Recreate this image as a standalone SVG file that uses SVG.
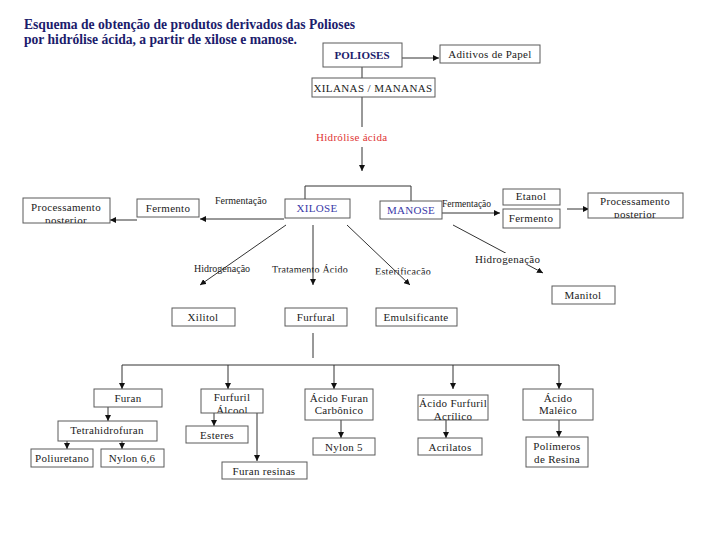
<svg xmlns="http://www.w3.org/2000/svg" width="720" height="540" viewBox="0 0 720 540">
<style>
.b{fill:#fff;stroke:#5a5a5a;stroke-width:1}
.t{font-family:"Liberation Serif",serif;font-size:11px;fill:#222;text-anchor:middle;letter-spacing:0.3px}
.s{font-family:"Liberation Serif",serif;font-size:10px;fill:#222}
.c{stroke:#333;fill:none;stroke-width:1}
.a{stroke:#333;fill:none;stroke-width:1;marker-end:url(#ah)}
.ttl{font-family:"Liberation Serif",serif;font-size:13.6px;font-weight:bold;fill:#1c1c6c}
.blue{fill:#3a3aa8}
</style>
<defs>
<marker id="ah" viewBox="0 0 10 10" refX="10" refY="5" markerWidth="6" markerHeight="6" markerUnits="userSpaceOnUse" orient="auto">
<path d="M0,0 L10,5 L0,10 z" fill="#111"/>
</marker>
<clipPath id="cpR"><rect x="588" y="193" width="95" height="25"/></clipPath>
<clipPath id="cpL"><rect x="23" y="198" width="87" height="25"/></clipPath>
<clipPath id="cpF"><rect x="201" y="389" width="62" height="24"/></clipPath>
<clipPath id="cpA"><rect x="418" y="395" width="70" height="25"/></clipPath>
<clipPath id="cpT"><rect x="260" y="250" width="100" height="22.5"/></clipPath>
<clipPath id="cpE"><rect x="370" y="250" width="80" height="24.5"/></clipPath>
</defs>
<rect width="720" height="540" fill="#fff"/>

<text class="ttl" x="24" y="29">Esquema de obtenção de produtos derivados das Polioses</text>
<text class="ttl" x="24" y="44">por hidrólise ácida, a partir de xilose e manose.</text>

<g id="connectors">
<line class="a" x1="402" y1="58" x2="439" y2="58"/>
<line class="c" x1="362" y1="67" x2="362" y2="78"/>
<line class="c" x1="362" y1="97" x2="362" y2="127"/>
<line class="a" x1="362" y1="147" x2="362" y2="171"/>
<path class="c" d="M305,199 V186 H411 V201"/>
<line class="a" x1="442" y1="213" x2="500" y2="213"/>
<line class="a" x1="567" y1="209" x2="589" y2="209"/>
<line class="a" x1="284" y1="219" x2="200" y2="219"/>
<line class="a" x1="137" y1="220" x2="110" y2="220"/>
<line class="a" x1="286" y1="225" x2="200" y2="285"/>
<line class="a" x1="313" y1="225" x2="313" y2="285"/>
<line class="a" x1="347" y1="225" x2="410" y2="285"/>
<line class="a" x1="453" y1="225" x2="543" y2="273"/>
<line class="c" x1="313" y1="333" x2="313" y2="358"/>
<line class="c" x1="122" y1="365" x2="559" y2="365"/>
<line class="a" x1="122" y1="365" x2="122" y2="389"/>
<line class="a" x1="228" y1="365" x2="228" y2="389"/>
<line class="a" x1="334" y1="365" x2="334" y2="389"/>
<line class="a" x1="453" y1="365" x2="453" y2="389"/>
<line class="a" x1="559" y1="365" x2="559" y2="389"/>
<line class="a" x1="108" y1="407" x2="108" y2="421"/>
<line class="a" x1="67" y1="441" x2="67" y2="449"/>
<line class="a" x1="122" y1="441" x2="122" y2="449"/>
<line class="a" x1="214" y1="413" x2="214" y2="426"/>
<line class="a" x1="257" y1="413" x2="257" y2="461"/>
<line class="a" x1="341" y1="420" x2="341" y2="438"/>
<line class="a" x1="446" y1="420" x2="446" y2="438"/>
<line class="a" x1="559" y1="420" x2="559" y2="437"/>
</g>

<g id="labels">
<text x="316" y="141" class="s" style="font-size:11px;fill:#e03535;letter-spacing:0.3px">Hidrólise ácida</text>
<text x="215" y="204" class="s">Fermentação</text>
<text x="442" y="207" class="s" style="font-size:9.5px">Fermentação</text>
<text x="194" y="272" class="s">Hidrogenação</text>
<g clip-path="url(#cpT)">
<text x="272" y="273" class="s" style="letter-spacing:0.2px">Tratamento Ácido</text>
</g>
<g clip-path="url(#cpE)">
<text x="375" y="275" class="s" style="letter-spacing:0.3px">Esterificação</text>
</g>
<rect x="474" y="253" width="70" height="12" fill="#fff"/>
<text x="475" y="263" class="s" style="font-size:11px;letter-spacing:0.3px">Hidrogenação</text>
</g>

<g id="polioses"><rect class="b" x="323" y="43" width="79" height="24"/><text class="t" x="362" y="59" style="font-weight:bold;fill:#1c1c6c;letter-spacing:0">POLIOSES</text></g>
<g id="aditivos"><rect class="b" x="440" y="45" width="100" height="18"/><text class="t" x="490" y="58">Aditivos de Papel</text></g>
<g id="xilanas"><rect class="b" x="312" y="78" width="123" height="19"/><text class="t" x="373" y="92" style="letter-spacing:0.4px">XILANAS / MANANAS</text></g>
<g id="xilose"><rect class="b" x="285" y="199" width="65" height="19"/><text class="t blue" x="317" y="212">XILOSE</text></g>
<g id="manose"><rect class="b" x="380" y="201" width="62" height="18"/><text class="t blue" x="411" y="214">MANOSE</text></g>
<g id="etanol"><rect class="b" x="503" y="189" width="57" height="16"/><text class="t" x="531" y="200">Etanol</text></g>
<g id="fermento-r"><rect class="b" x="503" y="209" width="57" height="19"/><text class="t" x="531" y="222">Fermento</text></g>
<g id="proc-r"><rect class="b" x="588" y="193" width="95" height="25"/><g clip-path="url(#cpR)"><text class="t" x="635" y="205">Processamento</text><text class="t" x="635" y="218">posterior</text></g></g>
<g id="fermento-l"><rect class="b" x="137" y="199" width="62" height="18"/><text class="t" x="168" y="212">Fermento</text></g>
<g id="proc-l"><rect class="b" x="23" y="198" width="87" height="25"/><g clip-path="url(#cpL)"><text class="t" x="66" y="211">Processamento</text><text class="t" x="66" y="224">posterior</text></g></g>
<g id="manitol"><rect class="b" x="552" y="286" width="63" height="18"/><text class="t" x="583" y="299">Manitol</text></g>
<g id="xilitol"><rect class="b" x="172" y="308" width="63" height="18"/><text class="t" x="203" y="321">Xilitol</text></g>
<g id="furfural"><rect class="b" x="285" y="308" width="62" height="18"/><text class="t" x="316" y="321">Furfural</text></g>
<g id="emulsificante"><rect class="b" x="376" y="308" width="81" height="18"/><text class="t" x="416" y="321">Emulsificante</text></g>
<g id="furan"><rect class="b" x="94" y="389" width="68" height="18"/><text class="t" x="128" y="402">Furan</text></g>
<g id="furfuril"><rect class="b" x="201" y="389" width="62" height="24"/><g clip-path="url(#cpF)"><text class="t" x="232" y="401">Furfuril</text><text class="t" x="232" y="414">Álcool</text></g></g>
<g id="acido-furan"><rect class="b" x="305" y="389" width="68" height="31"/><text class="t" x="339" y="402">Ácido Furan</text><text class="t" x="339" y="414">Carbônico</text></g>
<g id="acido-furfuril"><rect class="b" x="418" y="395" width="70" height="25"/><g clip-path="url(#cpA)"><text class="t" x="453" y="407">Ácido Furfuril</text><text class="t" x="453" y="420">Acrílico</text></g></g>
<g id="acido-maleico"><rect class="b" x="523" y="389" width="70" height="31"/><text class="t" x="558" y="402">Ácido</text><text class="t" x="558" y="414">Maléico</text></g>
<g id="thf"><rect class="b" x="58" y="421" width="99" height="20"/><text class="t" x="107" y="434">Tetrahidrofuran</text></g>
<g id="poliuretano"><rect class="b" x="31" y="449" width="62" height="18"/><text class="t" x="62" y="462">Poliuretano</text></g>
<g id="nylon66"><rect class="b" x="101" y="449" width="63" height="18"/><text class="t" x="132" y="462">Nylon 6,6</text></g>
<g id="esteres"><rect class="b" x="186" y="426" width="62" height="17"/><text class="t" x="217" y="439">Esteres</text></g>
<g id="furan-resinas"><rect class="b" x="222" y="462" width="85" height="17"/><text class="t" x="264" y="475">Furan resinas</text></g>
<g id="nylon5"><rect class="b" x="313" y="438" width="62" height="17"/><text class="t" x="344" y="451">Nylon 5</text></g>
<g id="acrilatos"><rect class="b" x="418" y="438" width="64" height="17"/><text class="t" x="450" y="451">Acrilatos</text></g>
<g id="polimeros"><rect class="b" x="526" y="437" width="62" height="30"/><text class="t" x="557" y="450">Polímeros</text><text class="t" x="557" y="463">de Resina</text></g>
</svg>
